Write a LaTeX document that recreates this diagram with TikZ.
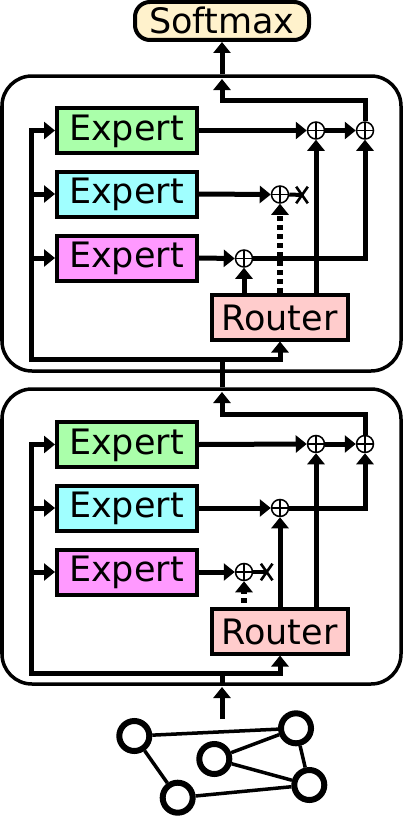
\documentclass[tikz,border=0pt]{standalone}
\usepackage{fontspec}
\setmainfont{DejaVu Sans}
\usetikzlibrary{arrows.meta,shapes.misc}
\definecolor{softc}{HTML}{FFF2CC}
\definecolor{greenc}{HTML}{AAFFAA}
\definecolor{cyanc}{HTML}{A0FFFF}
\definecolor{pinkc}{HTML}{FF99FF}
\definecolor{routerc}{HTML}{FFCCCC}
\tikzset{
  layerbox/.style={draw,line width=3.5pt,rounded corners=30pt,minimum width=399pt,minimum height=295pt,inner sep=0pt},
  softbox/.style={draw,fill=softc,line width=4pt,rounded corners=15pt,minimum width=174pt,minimum height=38pt,inner sep=0pt,font=\fontsize{35}{35}\selectfont,text height=26pt,text depth=0pt},
  expertbox/.style={draw,line width=4pt,minimum width=140pt,minimum height=45pt,inner sep=0pt,font=\fontsize{35}{35}\selectfont,text height=26pt,text depth=7pt},
  routerbox/.style={draw,fill=routerc,line width=4pt,minimum width=136pt,minimum height=45pt,inner sep=0pt,font=\fontsize{35}{35}\selectfont,text height=26pt,text depth=0pt},
  sumnode/.style={circle,draw,fill=white,line width=1.5pt,minimum size=17pt,inner sep=0pt,
    path picture={\draw[line width=1.2pt] (path picture bounding box.north)--(path picture bounding box.south)
      (path picture bounding box.west)--(path picture bounding box.east);}},
  xmark/.style={cross out,draw,line width=2.6pt,minimum width=9pt,minimum height=14pt,inner sep=0pt},
  arr/.style={line width=5pt,-{Triangle[length=11pt,width=17pt]}},
  wire/.style={line width=5pt},
  dashwire/.style={line width=5.5pt,-{Triangle[length=11pt,width=17pt]},dash pattern=on 5pt off 4pt},
  stub/.style={line width=4pt},
  gnode/.style={circle,draw,fill=white,line width=6pt,minimum size=30pt,inner sep=0pt},
  gedge/.style={line width=3.5pt}
}
\begin{document}
\begin{tikzpicture}[x=1pt,y=-1pt]
\useasboundingbox (0,0) rectangle (403,816);
% layers
\node[layerbox] (L1) at (201.5,223.5) {};
\node[layerbox] (L2) at (201.5,536.5) {};
% softmax
\node[softbox] (soft) at (222,21) {Softmax};
% upper block
\node[expertbox,fill=greenc] (e11) at (127,130.5) {\kern-1pt Expert};
\node[expertbox,fill=cyanc] (e12) at (127,194) {\kern-1pt Expert};
\node[expertbox,fill=pinkc] (e13) at (127,258) {\kern-1pt Expert};
\node[routerbox] (r1) at (280,317) {\kern-1pt Router};
\node[sumnode] (s11) at (316,130.5) {};
\node[sumnode] (s1o) at (365,130.5) {};
\node[sumnode] (s12) at (280,194.5) {};
\node[sumnode] (s13) at (244,258.5) {};
\node[xmark] (x1) at (302,195) {};
\coordinate (j1) at (222,100);
\coordinate (t1) at (222,79);
\coordinate (b1) at (222,359.5);
\coordinate (c1) at (31.5,359.5);
\coordinate (k1) at (365,258.5);
% lower block
\node[expertbox,fill=greenc] (e21) at (127,444.5) {\kern-1pt Expert};
\node[expertbox,fill=cyanc] (e22) at (127,508) {\kern-1pt Expert};
\node[expertbox,fill=pinkc] (e23) at (127,572) {\kern-1pt Expert};
\node[routerbox] (r2) at (280,631) {\kern-1pt Router};
\node[sumnode] (s21) at (316,444) {};
\node[sumnode] (s2o) at (365,444) {};
\node[sumnode] (s22) at (280,508) {};
\node[sumnode] (s23) at (244,572) {};
\node[xmark] (x2) at (266.7,572) {};
\coordinate (j2) at (222,414);
\coordinate (t2) at (222,392);
\coordinate (b2) at (222,673);
\coordinate (c2) at (31.5,673);
\coordinate (k2) at (365,508);
\coordinate (in) at (222,719);
\coordinate (t3) at (222,687);
% top output
\draw[arr] (soft.south |- L1.north) -- (soft.south);
% upper wiring
\draw[arr] (s1o.north) -- (s1o.north |- j1) -- (j1) -- (t1);
\draw[wire] (L1.south -| b1) -- (b1);
\draw[wire] (L2.north -| b1) -- (L1.south -| b1);
\draw[arr] (b1) -- (c1) |- (e11.west);
\draw[arr] (c1 |- e12.west) -- (e12.west);
\draw[arr] (c1 |- e13.west) -- (e13.west);
\draw[arr] (b1) -| (r1.south);
\draw[arr] (e11.east) -- (s11.west);
\draw[arr] (s11.east) -- (s1o.west);
\draw[arr] (e12.east) -- (s12.west);
\draw[arr] (e13.east) -- (s13.west);
\draw[stub] (s12.east) -- (x1.center);
\draw[arr] (s13.south |- r1.north) -- (s13.south);
\draw[dashwire] (s12.south |- r1.north) -- (s12.south);
\draw[arr] (s11.south |- r1.north) -- (s11.south);
\draw[arr] (s13.east) -- (k1) -- (s1o.south);
% lower wiring
\draw[arr] (s2o.north) -- (s2o.north |- j2) -- (j2) -- (t2);
\draw[wire] (L2.south -| b2) -- (b2);
\draw[arr] (b2) -- (c2) |- (e21.west);
\draw[arr] (c2 |- e22.west) -- (e22.west);
\draw[arr] (c2 |- e23.west) -- (e23.west);
\draw[arr] (b2) -| (r2.south);
\draw[arr] (e21.east) -- (s21.west);
\draw[arr] (s21.east) -- (s2o.west);
\draw[arr] (e22.east) -- (s22.west);
\draw[arr] (e23.east) -- (s23.west);
\draw[stub] (s23.east) -- (x2.center);
\draw[dashwire,dash phase=5pt] (s23.south |- r2.north) -- (s23.south);
\draw[arr] (s22.south |- r2.north) -- (s22.south);
\draw[arr] (s21.south |- r2.north) -- (s21.south);
\draw[arr] (s22.east) -- (k2) -- (s2o.south);
% input
\draw[arr] (in) -- (t3);
% graph
\node[gnode] (g1) at (134.3,736) {};
\node[gnode] (g2) at (296,728.3) {};
\node[gnode] (g3) at (214.3,759) {};
\node[gnode] (g4) at (309.3,785) {};
\node[gnode] (g5) at (177.7,797.7) {};
\draw[gedge] (g1) -- (g2);
\draw[gedge] (g1) -- (g5);
\draw[gedge] (g3) -- (g2);
\draw[gedge] (g3) -- (g4);
\draw[gedge] (g2) -- (g4);
\draw[gedge] (g5) -- (g4);
\end{tikzpicture}
\end{document}
